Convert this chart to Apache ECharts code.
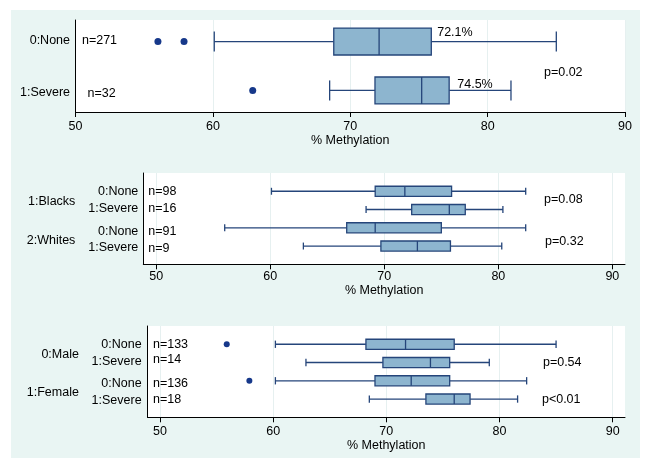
<!DOCTYPE html>
<html><head><meta charset="utf-8">
<script src="https://cdn.jsdelivr.net/npm/echarts@6/dist/echarts.min.js"></script>
<style>html,body{margin:0;padding:0;background:#fff}#c{width:651px;height:471px}</style>
</head><body><div id="c"></div>
<script>
// ---------- DATA ----------
const xTicks = [50, 60, 70, 80, 90];
const xTitle = '% Methylation';

// Panel 1: overall
const p1Rows = ['0:None', '1:Severe'];
const p1N = [271, 32];
const p1Low = [60.1, 68.5];
const p1Q1 = [68.8, 71.8];
const p1Med = [72.1, 75.2];
const p1Q3 = [75.9, 77.2];
const p1High = [85.0, 81.7];
const p1OutVal = [56.0, 57.9, 62.9];
const p1OutRow = [0, 0, 1];
const p1MedLabels = ['72.1%', '74.5%'];
const p1P = ['p=0.02'];

// Panel 2: by race
const p2Groups = ['1:Blacks', '2:Whites'];
const p2Rows = ['0:None', '1:Severe', '0:None', '1:Severe'];
const p2N = [98, 16, 91, 9];
const p2Low = [60.1, 68.4, 56.0, 62.9];
const p2Q1 = [69.2, 72.4, 66.7, 69.7];
const p2Med = [71.8, 75.7, 69.2, 72.9];
const p2Q3 = [75.9, 77.1, 75.0, 75.8];
const p2High = [82.4, 80.4, 82.4, 80.3];
const p2OutVal = [];
const p2OutRow = [];
const p2P = ['p=0.08', 'p=0.32'];

// Panel 3: by sex
const p3Groups = ['0:Male', '1:Female'];
const p3Rows = ['0:None', '1:Severe', '0:None', '1:Severe'];
const p3N = [133, 14, 136, 18];
const p3Low = [60.2, 62.9, 60.2, 68.5];
const p3Q1 = [68.2, 69.7, 69.0, 73.5];
const p3Med = [71.7, 73.9, 72.2, 76.0];
const p3Q3 = [76.0, 75.6, 75.6, 77.4];
const p3High = [85.0, 79.1, 82.4, 81.6];
const p3OutVal = [55.9, 57.9];
const p3OutRow = [0, 2];
const p3P = ['p=0.54', 'p<0.01'];

// ---------- STYLE / LAYOUT ----------
const FONT = '"Liberation Sans", Arial, Helvetica, sans-serif';
const FS = 12.5;
const LINE = '#25457a';
const FILL = '#8db5cf';
const DOT = '#16388a';
const MINT = '#e9f5f3';
const GRIDLINE = '#e6f0f0';

const panels = [
  {
    grid: {left: 75.5, right: 26, top: 20, height: 92},
    xMin: 50, xMax: 90, yMin: 0.56, yMax: 2.44,
    rowPos: [1, 2], boxFrac: 0.55, capFrac: 0.41, dot: 7,
    labelMargin: 8, nameGap: 20,
    low: p1Low, q1: p1Q1, med: p1Med, q3: p1Q3, high: p1High,
    outVal: p1OutVal, outRow: p1OutRow,
    texts: [
      [p1Rows[0], 49.6, 0.98, 'right'],
      [p1Rows[1], 49.6, 2.04, 'right'],
      ['n=' + p1N[0], 50.47, 0.98, 'left'],
      ['n=' + p1N[1], 50.87, 2.07, 'left'],
      [p1MedLabels[0], 76.33, 0.82, 'left'],
      [p1MedLabels[1], 77.79, 1.88, 'left'],
      [p1P[0], 84.1, 1.64, 'left']
    ]
  },
  {
    grid: {left: 143.3, right: 26, top: 173, height: 91.3},
    xMin: 48.86, xMax: 91.11, yMin: 0, yMax: 5,
    rowPos: [1, 2, 3, 4], boxFrac: 0.55, capFrac: 0.38, dot: 6,
    labelMargin: 6, nameGap: 20,
    low: p2Low, q1: p2Q1, med: p2Med, q3: p2Q3, high: p2High,
    outVal: p2OutVal, outRow: p2OutRow,
    texts: [
      [p2Groups[0], 42.9, 1.57, 'right'],
      [p2Groups[1], 42.9, 3.68, 'right'],
      [p2Rows[0], 48.42, 1.03, 'right'],
      [p2Rows[1], 48.42, 1.96, 'right'],
      [p2Rows[2], 48.42, 3.2, 'right'],
      [p2Rows[3], 48.42, 4.08, 'right'],
      ['n=' + p2N[0], 49.3, 1.03, 'left'],
      ['n=' + p2N[1], 49.3, 1.96, 'left'],
      ['n=' + p2N[2], 49.3, 3.2, 'left'],
      ['n=' + p2N[3], 49.3, 4.15, 'left'],
      [p2P[0], 84.01, 1.43, 'left'],
      [p2P[1], 84.1, 3.74, 'left']
    ]
  },
  {
    grid: {left: 147.5, right: 26, top: 326, height: 91.3},
    xMin: 48.9, xMax: 91.09, yMin: 0, yMax: 5,
    rowPos: [1, 2, 3, 4], boxFrac: 0.55, capFrac: 0.4, dot: 6,
    labelMargin: 8, nameGap: 21,
    low: p3Low, q1: p3Q1, med: p3Med, q3: p3Q3, high: p3High,
    outVal: p3OutVal, outRow: p3OutRow,
    texts: [
      [p3Groups[0], 42.84, 1.55, 'right'],
      [p3Groups[1], 42.84, 3.66, 'right'],
      [p3Rows[0], 48.38, 1.0, 'right'],
      [p3Rows[1], 48.38, 1.96, 'right'],
      [p3Rows[2], 48.38, 3.15, 'right'],
      [p3Rows[3], 48.38, 4.07, 'right'],
      ['n=' + p3N[0], 49.38, 1.04, 'left'],
      ['n=' + p3N[1], 49.38, 1.83, 'left'],
      ['n=' + p3N[2], 49.38, 3.15, 'left'],
      ['n=' + p3N[3], 49.38, 4.01, 'left'],
      [p3P[0], 83.84, 1.98, 'left'],
      [p3P[1], 83.75, 4.01, 'left']
    ]
  }
];

function boxRender(boxFrac, capFrac) {
  return function (params, api) {
    const row = api.value(0);
    const lo = api.coord([api.value(1), row]);
    const q1 = api.coord([api.value(2), row]);
    const md = api.coord([api.value(3), row]);
    const q3 = api.coord([api.value(4), row]);
    const hi = api.coord([api.value(5), row]);
    const bh = Math.abs(api.size([0, boxFrac])[1]);
    const ch = Math.abs(api.size([0, capFrac])[1]);
    const y = lo[1];
    const ls = {stroke: LINE, lineWidth: 1.3, fill: null};
    return {
      type: 'group',
      children: [
        {type: 'line', shape: {x1: lo[0], y1: y, x2: q1[0], y2: y}, style: ls},
        {type: 'line', shape: {x1: q3[0], y1: y, x2: hi[0], y2: y}, style: ls},
        {type: 'line', shape: {x1: lo[0], y1: y - ch / 2, x2: lo[0], y2: y + ch / 2}, style: ls},
        {type: 'line', shape: {x1: hi[0], y1: y - ch / 2, x2: hi[0], y2: y + ch / 2}, style: ls},
        {type: 'rect', shape: {x: q1[0], y: y - bh / 2, width: q3[0] - q1[0], height: bh},
          style: {fill: FILL, stroke: LINE, lineWidth: 1.3}},
        {type: 'line', shape: {x1: md[0], y1: y - bh / 2, x2: md[0], y2: y + bh / 2}, style: ls}
      ]
    };
  };
}

function textRender(texts) {
  return function (params, api) {
    const p = api.coord([api.value(0), api.value(1)]);
    const t = texts[params.dataIndex];
    return {
      type: 'text', x: p[0], y: p[1],
      style: {text: t[0], align: t[3], verticalAlign: 'middle', fill: '#000',
        fontSize: FS, fontFamily: FONT}
    };
  };
}

const option = {
  animation: false,
  backgroundColor: '#fff',
  graphic: [{type: 'rect', z: -10, shape: {x: 11, y: 10, width: 629, height: 448},
    style: {fill: MINT}, silent: true}],
  grid: [], xAxis: [], yAxis: [], series: []
};

panels.forEach((p, i) => {
  option.grid.push(Object.assign({show: true, backgroundColor: '#fff', borderWidth: 0,
    containLabel: false}, p.grid));
  option.xAxis.push({
    gridIndex: i, type: 'value', min: p.xMin, max: p.xMax,
    axisLine: {show: true, onZero: false, lineStyle: {color: '#000', width: 1}},
    axisTick: {show: true, length: 5, customValues: xTicks, lineStyle: {color: '#000', width: 1}},
    axisLabel: {customValues: xTicks, margin: p.labelMargin, color: '#000', fontSize: FS, fontFamily: FONT},
    splitLine: {show: true, lineStyle: {color: GRIDLINE, width: 1}},
    name: xTitle, nameLocation: 'middle', nameGap: p.nameGap,
    nameTextStyle: {color: '#000', fontSize: FS, fontFamily: FONT}
  });
  option.yAxis.push({
    gridIndex: i, type: 'value', inverse: true, min: p.yMin, max: p.yMax,
    axisLine: {show: true, onZero: false, lineStyle: {color: '#000', width: 1}},
    axisTick: {show: false}, axisLabel: {show: false}, splitLine: {show: false}
  });
  const boxData = p.rowPos.map((r, k) => [r, p.low[k], p.q1[k], p.med[k], p.q3[k], p.high[k]]);
  option.series.push({
    type: 'custom', xAxisIndex: i, yAxisIndex: i, clip: false,
    encode: {x: [1, 2, 3, 4, 5], y: 0},
    renderItem: boxRender(p.boxFrac, p.capFrac), data: boxData, silent: true
  });
  if (p.outVal.length) {
    option.series.push({
      type: 'scatter', xAxisIndex: i, yAxisIndex: i, symbol: 'circle', symbolSize: p.dot,
      itemStyle: {color: DOT, opacity: 1},
      data: p.outVal.map((v, k) => [v, p.rowPos[p.outRow[k]]]), silent: true
    });
  }
  option.series.push({
    type: 'custom', xAxisIndex: i, yAxisIndex: i, clip: false,
    encode: {x: 0, y: 1},
    renderItem: textRender(p.texts), data: p.texts.map(t => [t[1], t[2]]), silent: true
  });
});

const chart = echarts.init(document.getElementById('c'), null, {renderer: 'canvas'});
chart.setOption(option);
</script>
</body></html>
